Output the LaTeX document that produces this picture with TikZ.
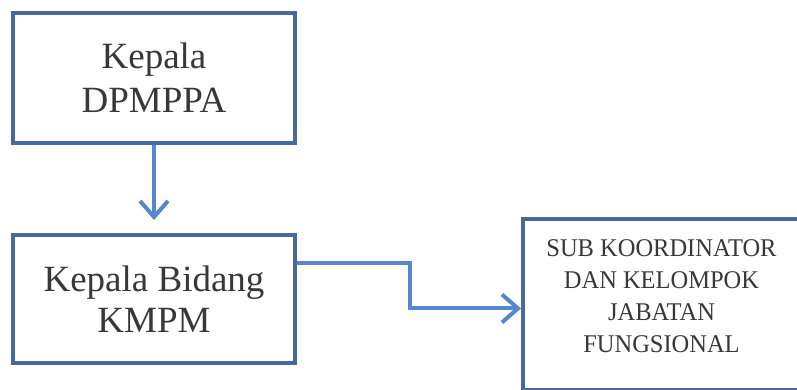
\documentclass[tikz,border=0pt]{standalone}
\usepackage{fontspec}
\setmainfont{Liberation Serif}
\newfontfamily\narrowserif[FakeStretch=0.96]{Liberation Serif}
\usetikzlibrary{arrows.meta}
\definecolor{boxblue}{RGB}{74,104,160}
\definecolor{lineblue}{RGB}{88,134,204}

\begin{document}
\begin{tikzpicture}[x=1pt,y=-1pt,
    box/.style={draw=boxblue, line width=4pt, align=center, inner sep=0pt, text=black!78},
    link/.style={draw=lineblue, line width=4pt, -{Straight Barb[length=16pt,width=28pt]}}]
    \useasboundingbox[fill=white] (0,0) rectangle (797,390);
    \node[box, minimum width=282pt, minimum height=130pt, font=\fontsize{37}{44}\selectfont] (kadis) at (154,78) {Kepala\\DPMPPA};
    \node[box, minimum width=282pt, minimum height=128pt, font=\fontsize{37}{41}\selectfont] (kabid) at (154,299) {Kepala Bidang\\KMPM};
    %  sub koordinator box runs past the right edge
    \node[box, anchor=north, minimum width=277pt, inner ysep=21pt, text depth=16pt, font=\narrowserif\fontsize{25.5}{32}\selectfont] (subkoor) at (661.5,217) {SUB KOORDINATOR\\DAN KELOMPOK\\JABATAN\\FUNGSIONAL};
    \draw[link, shorten >=13pt] (kadis.south) -- (kadis.south |- kabid.north);
    \draw[link] ([yshift=36pt]kabid.east) -- ++(113,0) |- ([yshift=-4pt]subkoor.west);
\end{tikzpicture}
\end{document}
